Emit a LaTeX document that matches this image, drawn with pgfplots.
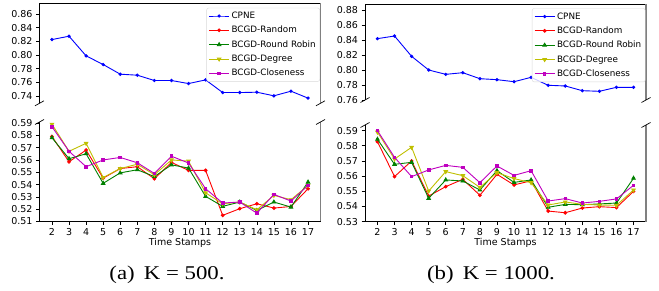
\documentclass[border=0pt]{standalone}
\usepackage{pgfplots}
\pgfplotsset{compat=1.18}
\usepackage{pgfplotstable}
\usepackage{fontspec}
\setmainfont{DejaVu Sans}
\newfontfamily\capfont{Liberation Serif}
\definecolor{mB}{rgb}{0,0,1}
\definecolor{mR}{rgb}{1,0,0}
\definecolor{mG}{rgb}{0,0.5,0}
\definecolor{mY}{rgb}{0.75,0.75,0}
\definecolor{mM}{rgb}{0.75,0,0.75}

\pgfplotstableread{
t cpne rnd rr deg clo
2 0.8227 0.579 0.578 0.589 0.587
3 0.8276 0.5585 0.561 0.567 0.567
4 0.7987 0.568 0.565 0.5735 0.5545
5 0.786 0.5452 0.541 0.5457 0.560
6 0.7718 0.553 0.5495 0.553 0.562
7 0.7703 0.5545 0.552 0.5565 0.5577
8 0.7625 0.5447 0.5465 0.548 0.549
9 0.7625 0.558 0.556 0.560 0.563
10 0.758 0.5515 0.5534 0.559 0.5575
11 0.7634 0.5515 0.5304 0.5333 0.5366
12 0.7448 0.515 0.5223 0.5244 0.525
13 0.7448 0.5204 0.5258 0.5258 0.5258
14 0.7453 0.5244 0.519 0.5195 0.5168
15 0.740 0.5209 0.5258 0.5312 0.532
16 0.7468 0.5222 0.5217 0.5277 0.5266
17 0.7366 0.5366 0.542 0.5393 0.5393
}\dataA

\pgfplotstableread{
t cpne rnd rr deg clo
2 0.8418 0.5827 0.5843 0.589 0.590
3 0.8453 0.5597 0.5678 0.5713 0.5724
4 0.8182 0.570 0.5691 0.579 0.5597
5 0.800 0.5469 0.5454 0.5502 0.5641
6 0.7942 0.5531 0.5575 0.563 0.5671
7 0.7964 0.5579 0.5568 0.5603 0.5658
8 0.7884 0.5474 0.5509 0.5526 0.5557
9 0.7871 0.5612 0.5636 0.5623 0.5667
10 0.7844 0.5542 0.5559 0.5584 0.5605
11 0.7902 0.557 0.5575 0.5557 0.5636
12 0.7796 0.537 0.5395 0.541 0.5436
13 0.7787 0.5359 0.5414 0.543 0.5452
14 0.7724 0.539 0.5412 0.5414 0.5423
15 0.7716 0.5399 0.5417 0.541 0.5434
16 0.7769 0.5393 0.5423 0.5408 0.545
17 0.7769 0.55 0.5586 0.5509 0.554
}\dataB

\pgfplotsset{
  base/.style={scale only axis, width=281pt, xmin=1.27, xmax=17.73,
    axis line style={draw=none}, tick align=outside, tick pos=left,
    major tick length=3.5pt, tick style={black, line width=0.6pt},
    ticklabel style={font=\fontsize{9.5}{11}\selectfont},
    /pgf/number format/assume math mode=true,
    yticklabel style={/pgf/number format/fixed, /pgf/number format/fixed zerofill, /pgf/number format/precision=2},
    clip mode=individual},
  topax/.style={base, xtick=\empty,
    legend style={at={(0.998,0.955)}, anchor=north east,
      font=\fontsize{8.8}{10}\selectfont, draw=black!15, rounded corners=2pt,
      fill=white, fill opacity=0.8, text opacity=1, inner sep=2pt,
      row sep=2.2pt, cells={anchor=west}},
    legend image code/.code={\draw[mark repeat=2,mark phase=2] plot coordinates {(0pt,0pt) (10pt,0pt) (20pt,0pt)};}},
  botax/.style={base, xtick={2,...,17}, xlabel={Time Stamps},
    xlabel style={font=\fontsize{9.5}{11}\selectfont, yshift=4pt}},
  cp/.style={color=mB, mark=*, mark size=1.2pt, line width=0.9pt},
  rd/.style={color=mR, mark=*, mark size=1.4pt, line width=0.9pt},
  rrs/.style={color=mG, mark=triangle*, mark size=2pt, line width=0.9pt},
  dg/.style={color=mY, mark=triangle*, mark options={rotate=180}, mark size=2pt, line width=0.9pt},
  cl/.style={color=mM, mark=square*, mark size=1.3pt, line width=0.9pt},
}
\newcommand{\topspines}{%
  \draw[black, line width=0.8pt] (rel axis cs:0,0) -- (rel axis cs:0,1) -- (rel axis cs:1,1);
  \draw[black!50, line width=1.2pt] (rel axis cs:1,1) -- (rel axis cs:1,0);
  \draw[black, line width=0.7pt] (rel axis cs:0,0) ++(-4.5pt,-2.5pt) -- ++(9pt,5pt);
  \draw[black, line width=0.7pt] (rel axis cs:1,0) ++(-4.5pt,-2.5pt) -- ++(9pt,5pt);}
\newcommand{\botspines}{%
  \draw[black, line width=0.8pt] (rel axis cs:0,1) -- (rel axis cs:0,0) -- (rel axis cs:1,0);
  \draw[black!50, line width=1.2pt] (rel axis cs:1,0) -- (rel axis cs:1,1);
  \draw[black, line width=0.7pt] (rel axis cs:0,1) ++(-4.5pt,-2.5pt) -- ++(9pt,5pt);
  \draw[black, line width=0.7pt] (rel axis cs:1,1) ++(-4.5pt,-2.5pt) -- ++(9pt,5pt);}

\begin{document}
\begin{tikzpicture}
\useasboundingbox (0,0) rectangle (659pt,291pt);
% ---- left top
\begin{axis}[topax, at={(39.5pt,187.7pt)}, anchor=south west, height=100pt,
  ymin=0.729, ymax=0.876, ytick={0.74,0.76,...,0.861}]
\addplot[cp] table[x=t,y=cpne]{\dataA};
\addlegendentry{CPNE}
\addlegendimage{rd}\addlegendentry{BCGD-Random}
\addlegendimage{rrs}\addlegendentry{BCGD-Round Robin}
\addlegendimage{dg}\addlegendentry{BCGD-Degree}
\addlegendimage{cl}\addlegendentry{BCGD-Closeness}
\topspines
\end{axis}
% ---- left bottom
\begin{axis}[botax, at={(39.5pt,69.5pt)}, anchor=south west, height=99.5pt,
  ymin=0.51, ymax=0.5908, ytick={0.51,0.52,...,0.591}]
\addplot[rd] table[x=t,y=rnd]{\dataA};
\addplot[rrs] table[x=t,y=rr]{\dataA};
\addplot[dg] table[x=t,y=deg]{\dataA};
\addplot[cl] table[x=t,y=clo]{\dataA};
\botspines
\end{axis}
% ---- right top
\begin{axis}[topax, at={(365pt,191pt)}, anchor=south west, height=96pt,
  ymin=0.76, ymax=0.888, ytick={0.76,0.78,...,0.881}]
\addplot[cp] table[x=t,y=cpne]{\dataB};
\addlegendentry{CPNE}
\addlegendimage{rd}\addlegendentry{BCGD-Random}
\addlegendimage{rrs}\addlegendentry{BCGD-Round Robin}
\addlegendimage{dg}\addlegendentry{BCGD-Degree}
\addlegendimage{cl}\addlegendentry{BCGD-Closeness}
\topspines
\end{axis}
% ---- right bottom
\begin{axis}[botax, at={(365pt,69.3pt)}, anchor=south west, height=96.7pt,
  ymin=0.53, ymax=0.5937, ytick={0.53,0.54,...,0.591}]
\addplot[rd] table[x=t,y=rnd]{\dataB};
\addplot[rrs] table[x=t,y=rr]{\dataB};
\addplot[dg] table[x=t,y=deg]{\dataB};
\addplot[cl] table[x=t,y=clo]{\dataB};
\botspines
\end{axis}
\node[font=\capfont\fontsize{19.5}{22}\selectfont] at (167pt,16pt) {\scalebox{1.17}[1]{(a)\hspace{0.4em}K = 500.}};
\node[font=\capfont\fontsize{19.5}{22}\selectfont] at (491pt,16pt) {\scalebox{1.17}[1]{(b)\hspace{0.4em}K = 1000.}};
\end{tikzpicture}
\end{document}
